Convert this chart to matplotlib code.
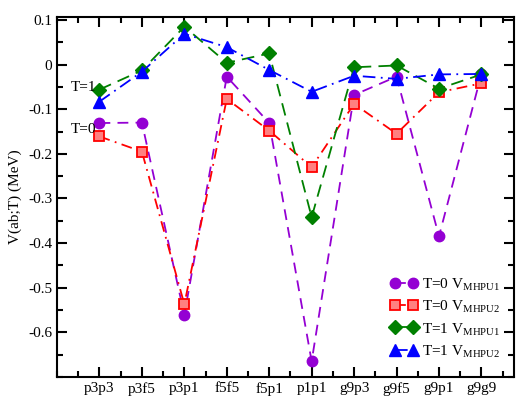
import numpy as np
import matplotlib
matplotlib.use("Agg")
from matplotlib import pyplot as plt
from matplotlib.ticker import MultipleLocator

plt.rcParams['font.family'] = ['Liberation Serif', 'DejaVu Serif']
plt.rcParams['mathtext.fontset'] = 'custom'
plt.rcParams['mathtext.rm'] = 'Liberation Serif'

labels = ["p3p3", "p3f5", "p3p1", "f5f5", "f5p1", "p1p1", "g9p3", "g9f5", "g9p1", "g9g9"]
t0_mhpu1 = [-0.131, -0.130, -0.561, -0.027, -0.131, -0.665, -0.068, -0.027, -0.385, -0.021]
t0_mhpu2 = [-0.161, -0.195, -0.537, -0.077, -0.148, -0.230, -0.088, -0.155, -0.062, -0.042]
t1_mhpu1 = [-0.056, -0.013, 0.085, 0.004, 0.025, -0.342, -0.006, -0.002, -0.054, -0.022]
t1_mhpu2 = [-0.083, -0.016, 0.069, 0.039, -0.012, -0.061, -0.025, -0.032, -0.022, -0.021]

x = np.arange(1, len(labels) + 1)

fig = plt.figure(figsize=(5.23, 4.01), dpi=100)
ax = fig.add_axes([0.109, 0.06, 0.874, 0.898])

ax.plot(x, t0_mhpu1, color="#9400d3", ls=(0, (6, 4)), lw=1.3, marker="o", ms=7.5,
        label=r"T=0 V$_{\mathrm{MHPU1}}$")
ax.plot(x, t0_mhpu2, color="red", ls=(0, (6, 3, 1, 3)), lw=1.3, marker="s", ms=6.5,
        mfc="#ff8080", mec="red", mew=1.3, label=r"T=0 V$_{\mathrm{MHPU2}}$")
ax.plot(x, t1_mhpu1, color="green", ls=(0, (7, 4)), lw=1.3, marker="D", ms=7,
        label=r"T=1 V$_{\mathrm{MHPU1}}$")
ax.plot(x, t1_mhpu2, color="blue", ls=(0, (7, 3, 1, 3)), lw=1.3, marker="^", ms=8,
        label=r"T=1 V$_{\mathrm{MHPU2}}$")

ax.text(0.33, -0.052, "T=1", fontsize=11, va="center")
ax.text(0.33, -0.146, "T=0", fontsize=11, va="center")

ax.set_xlim(0, 10.77)
ax.set_ylim(-0.70, 0.107)
ax.set_xticks(x)
ax.set_xticklabels(labels)
ax.xaxis.set_minor_locator(MultipleLocator(0.5))
ax.yaxis.set_minor_locator(MultipleLocator(0.05))
ax.set_yticks(np.arange(-0.6, 0.11, 0.1))
ax.set_yticklabels(["-0.6", "-0.5", "-0.4", "-0.3", "-0.2", "-0.1", "0", "0.1"])
ax.tick_params(which="both", direction="in", top=True, right=True, labelsize=11, width=1.5)
ax.tick_params(which="major", length=7)
ax.tick_params(which="minor", length=4)
for s in ax.spines.values():
    s.set_linewidth(1.5)
ax.set_ylabel("V(ab;T) (MeV)", fontsize=11)

ax.legend(loc="lower right", frameon=False, fontsize=11, numpoints=2, handlelength=1.8,
          handletextpad=0.3, labelspacing=0.35, bbox_to_anchor=(1.0, 0.01))

fig.savefig("out.png", dpi=100)
